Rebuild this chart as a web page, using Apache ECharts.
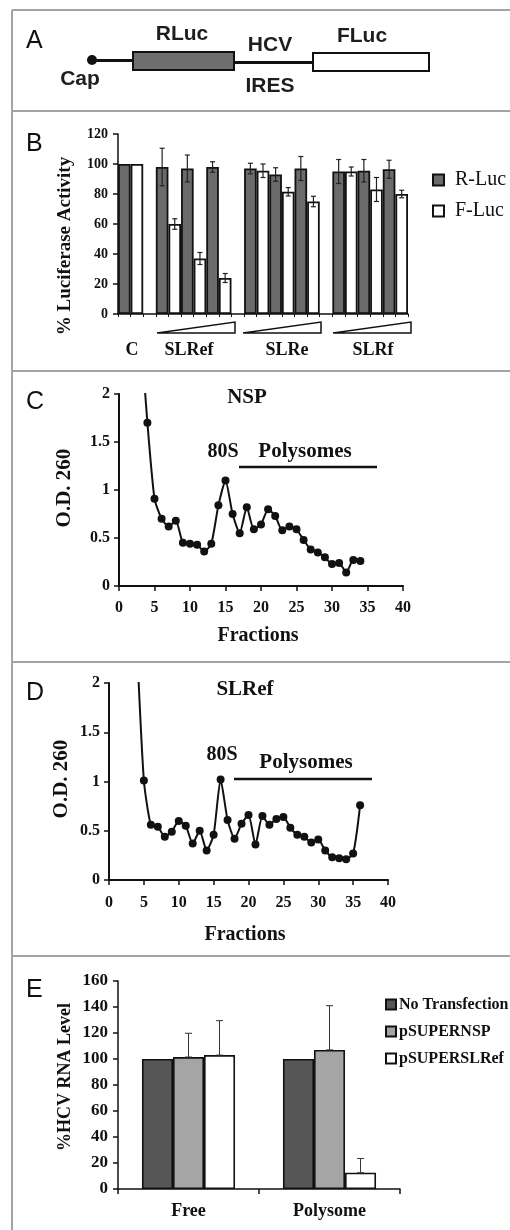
<!DOCTYPE html>
<html>
<head>
<meta charset="utf-8">
<script src="https://cdn.jsdelivr.net/npm/echarts/dist/echarts.min.js"></script>
<style>
html,body{margin:0;padding:0;background:#fff;}
#chart{width:510px;height:1230px;}
</style>
</head>
<body>
<div id="chart"></div>
<script>
// ---------- Panel B data ----------
const bGroups = ['C', 'SLRef', 'SLRe', 'SLRf'];
const rLuc    = [100, 98, 97, 98, 97, 93, 97, 95, 95.5, 96.5];
const rLucErr = [0, 12.5, 9, 3.5, 3.5, 4.5, 8, 8, 7.5, 6];
const fLuc    = [100, 60, 37, 24, 95.5, 81.5, 75, 95, 83, 80];
const fLucErr = [0, 3.5, 4, 3, 4.5, 2.8, 3.5, 3, 8, 2.5];
const bTicks  = [0, 20, 40, 60, 80, 100, 120];

// ---------- Panel C data (NSP) ----------
const fractionsC = [3, 4, 5, 6, 7, 8, 9, 10, 11, 12, 13, 14, 15, 16, 17, 18, 19, 20, 21, 22, 23, 24, 25, 26, 27, 28, 29, 30, 31, 32, 33, 34];
const odC        = [2.7, 1.70, 0.91, 0.70, 0.62, 0.68, 0.45, 0.44, 0.43, 0.36, 0.44, 0.84, 1.10, 0.75, 0.55, 0.82, 0.59, 0.64, 0.80, 0.73, 0.58, 0.62, 0.59, 0.48, 0.38, 0.35, 0.30, 0.23, 0.24, 0.14, 0.27, 0.26];

// ---------- Panel D data (SLRef) ----------
const fractionsD = [4, 5, 6, 7, 8, 9, 10, 11, 12, 13, 14, 15, 16, 17, 18, 19, 20, 21, 22, 23, 24, 25, 26, 27, 28, 29, 30, 31, 32, 33, 34, 35, 36];
const odD        = [2.4, 1.01, 0.56, 0.54, 0.44, 0.49, 0.60, 0.55, 0.37, 0.50, 0.30, 0.46, 1.02, 0.61, 0.42, 0.57, 0.66, 0.36, 0.65, 0.56, 0.62, 0.64, 0.53, 0.46, 0.44, 0.38, 0.41, 0.30, 0.23, 0.22, 0.21, 0.27, 0.76];

// ---------- Panel E data ----------
const eCategories     = ['Free', 'Polysome'];
const noTransfection  = [100, 100];
const pSUPERNSP       = [101.5, 107];
const pSUPERNSPErr    = [18.3, 34];
const pSUPERSLRef     = [103, 12.5];
const pSUPERSLRefErr  = [26.5, 11];

// ---------- layout helpers (not data) ----------
const nSlots = 23;
const pairSlots = [0, 3, 5, 7, 10, 12, 14, 17, 19, 21];
const slotCats = Array.from({length: nSlots}, (_, i) => 's' + i);
const rSlot = Array(nSlots).fill(null);
const fSlot = Array(nSlots).fill(null);
const bErrData = [];
rLuc.forEach((v, i) => { rSlot[pairSlots[i]] = v; if (rLucErr[i] > 0) bErrData.push([pairSlots[i], v, rLucErr[i]]); });
fLuc.forEach((v, i) => { fSlot[pairSlots[i] + 1] = v; if (fLucErr[i] > 0) bErrData.push([pairSlots[i] + 1, v, fLucErr[i]]); });

const eErrData = [];
pSUPERNSP.forEach((v, i) => eErrData.push([i, 1, v, pSUPERNSPErr[i]]));
pSUPERSLRef.forEach((v, i) => eErrData.push([i, 2, v, pSUPERSLRefErr[i]]));

const SERIF = 'Liberation Serif';
const SANS = 'Liberation Sans';
const INK = '#111';

function txt(x, y, text, font, extra) {
  return {type: 'text', x: x, y: y, z: 10,
    style: Object.assign({text: text, font: font, fill: INK, align: 'center', verticalAlign: 'middle'}, extra || {})};
}
function vtxt(x, y, text, font) {
  const t = txt(x, y, text, font);
  t.rotation = Math.PI / 2;
  return t;
}
function ln(x1, y1, x2, y2, w, c) {
  return {type: 'line', z: 10, shape: {x1, y1, x2, y2}, style: {stroke: c || INK, lineWidth: w}};
}

const frameC = '#a3a3a3';
const graphics = [
  // frame
  ln(12, 10, 510, 10, 2, frameC),
  ln(12, 10, 12, 1230, 2, frameC),
  ln(12, 111, 510, 111, 2, frameC),
  ln(12, 371, 510, 371, 2, frameC),
  ln(12, 662, 510, 662, 2, frameC),
  ln(12, 956, 510, 956, 2, frameC),
  // panel letters
  txt(26, 41, 'A', '25px ' + SANS, {align: 'left'}),
  txt(26, 144, 'B', '25px ' + SANS, {align: 'left'}),
  txt(26, 402, 'C', '25px ' + SANS, {align: 'left'}),
  txt(26, 693, 'D', '25px ' + SANS, {align: 'left'}),
  txt(26, 990, 'E', '25px ' + SANS, {align: 'left'}),
  // panel A diagram
  ln(92, 60.5, 134, 60.5, 3),
  {type: 'circle', z: 11, shape: {cx: 92, cy: 60, r: 5}, style: {fill: INK}},
  {type: 'rect', z: 10, shape: {x: 133, y: 52, width: 101, height: 18}, style: {fill: '#6e6e6e', stroke: INK, lineWidth: 2}},
  ln(234, 62.5, 314, 62.5, 3),
  {type: 'rect', z: 10, shape: {x: 313, y: 53, width: 116, height: 18}, style: {fill: '#fff', stroke: INK, lineWidth: 2}},
  txt(182, 34, 'RLuc', 'bold 21px ' + SANS, {fill: '#1e1e1e'}),
  txt(270, 45, 'HCV', 'bold 21px ' + SANS, {fill: '#1e1e1e'}),
  txt(362, 36, 'FLuc', 'bold 21px ' + SANS, {fill: '#1e1e1e'}),
  txt(80, 79, 'Cap', 'bold 21px ' + SANS, {fill: '#1e1e1e'}),
  txt(270, 86, 'IRES', 'bold 21px ' + SANS, {fill: '#1e1e1e'}),
  // panel B
  vtxt(65, 246, '% Luciferase Activity', 'bold 19px ' + SERIF),
  txt(132, 350, bGroups[0], 'bold 18px ' + SERIF),
  txt(189, 350, bGroups[1], 'bold 18px ' + SERIF),
  txt(287, 350, bGroups[2], 'bold 18px ' + SERIF),
  txt(373, 350, bGroups[3], 'bold 18px ' + SERIF),
  {type: 'polygon', z: 10, shape: {points: [[157, 333], [235, 322], [235, 333]]}, style: {fill: '#fff', stroke: INK, lineWidth: 1.5}},
  {type: 'polygon', z: 10, shape: {points: [[243, 333], [321, 322], [321, 333]]}, style: {fill: '#fff', stroke: INK, lineWidth: 1.5}},
  {type: 'polygon', z: 10, shape: {points: [[333, 333], [411, 322], [411, 333]]}, style: {fill: '#fff', stroke: INK, lineWidth: 1.5}},
  // panel C
  vtxt(65, 488, 'O.D. 260', 'bold 21px ' + SERIF),
  txt(247, 398, 'NSP', 'bold 21px ' + SERIF),
  txt(223, 452, '80S', 'bold 20px ' + SERIF),
  txt(305, 452, 'Polysomes', 'bold 21px ' + SERIF),
  ln(239, 467, 377, 467, 2.5),
  txt(258, 636, 'Fractions', 'bold 20px ' + SERIF),
  // panel D
  vtxt(62, 779, 'O.D. 260', 'bold 21px ' + SERIF),
  txt(245, 690, 'SLRef', 'bold 21px ' + SERIF),
  txt(222, 755, '80S', 'bold 20px ' + SERIF),
  txt(306, 763, 'Polysomes', 'bold 21px ' + SERIF),
  ln(234, 779, 372, 779, 2.5),
  txt(245, 935, 'Fractions', 'bold 20px ' + SERIF),
  // panel E
  vtxt(65, 1077, '%HCV RNA Level', 'bold 18px ' + SERIF)
];

const axisLine = {show: true, lineStyle: {color: INK, width: 1.5}};
const axisTickOut = {show: true, inside: false, length: 5, lineStyle: {color: INK, width: 1.5}};

const chart = echarts.init(document.getElementById('chart'), null, {renderer: 'canvas'});
chart.setOption({
  animation: false,
  backgroundColor: '#fff',
  textStyle: {fontFamily: SERIF, color: INK},
  grid: [
    {left: 118, top: 134, width: 290, height: 180},
    {left: 119, top: 394, width: 284, height: 192},
    {left: 109, top: 683, width: 279, height: 197},
    {left: 118, top: 981, width: 282, height: 208}
  ],
  legend: [
    {data: ['R-Luc', 'F-Luc'], orient: 'vertical', left: 427, top: 165, itemWidth: 11, itemHeight: 11, itemGap: 11, icon: 'rect',
      textStyle: {fontFamily: SERIF, fontSize: 20, lineHeight: 20, color: INK, padding: [0, 0, 0, 6]}},
    {data: ['No Transfection', 'pSUPERNSP', 'pSUPERSLRef'], orient: 'vertical', left: 380, top: 991, itemWidth: 10, itemHeight: 10, itemGap: 10, icon: 'rect',
      textStyle: {fontFamily: SERIF, fontWeight: 'bold', fontSize: 16, lineHeight: 17, color: INK, padding: [0, 0, 0, -2]}}
  ],
  xAxis: [
    {gridIndex: 0, type: 'category', data: slotCats, boundaryGap: true,
      axisLine: axisLine, axisTick: {show: true, interval: 0, length: 3, lineStyle: {color: INK, width: 1}}, axisLabel: {show: false}, splitLine: {show: false}},
    {gridIndex: 1, type: 'value', min: 0, max: 40, interval: 5,
      axisLine: {show: true, onZero: false, lineStyle: {color: INK, width: 2}}, axisTick: axisTickOut, splitLine: {show: false},
      axisLabel: {fontFamily: SERIF, fontWeight: 'bold', fontSize: 16, color: INK, margin: 14}},
    {gridIndex: 2, type: 'value', min: 0, max: 40, interval: 5,
      axisLine: {show: true, onZero: false, lineStyle: {color: INK, width: 2}}, axisTick: axisTickOut, splitLine: {show: false},
      axisLabel: {fontFamily: SERIF, fontWeight: 'bold', fontSize: 16, color: INK, margin: 15}},
    {gridIndex: 3, type: 'category', data: eCategories,
      axisLine: axisLine, axisTick: {show: true, length: 5, lineStyle: {color: INK, width: 1.5}}, splitLine: {show: false},
      axisLabel: {fontFamily: SERIF, fontWeight: 'bold', fontSize: 18, color: INK, margin: 13}}
  ],
  yAxis: [
    {gridIndex: 0, type: 'value', min: 0, max: 120, interval: 20,
      axisLine: axisLine, axisTick: axisTickOut, splitLine: {show: false},
      axisLabel: {fontFamily: SERIF, fontWeight: 'bold', fontSize: 14, color: INK, margin: 10}},
    {gridIndex: 1, type: 'value', min: 0, max: 2, interval: 0.5,
      axisLine: {show: true, onZero: false, lineStyle: {color: INK, width: 2}}, axisTick: axisTickOut, splitLine: {show: false},
      axisLabel: {fontFamily: SERIF, fontWeight: 'bold', fontSize: 16, color: INK, margin: 9}},
    {gridIndex: 2, type: 'value', min: 0, max: 2, interval: 0.5,
      axisLine: {show: true, onZero: false, lineStyle: {color: INK, width: 2}}, axisTick: axisTickOut, splitLine: {show: false},
      axisLabel: {fontFamily: SERIF, fontWeight: 'bold', fontSize: 16, color: INK, margin: 9}},
    {gridIndex: 3, type: 'value', min: 0, max: 160, interval: 20,
      axisLine: axisLine, axisTick: axisTickOut, splitLine: {show: false},
      axisLabel: {fontFamily: SERIF, fontWeight: 'bold', fontSize: 17, color: INK, margin: 10}}
  ],
  series: [
    {name: 'R-Luc', type: 'bar', xAxisIndex: 0, yAxisIndex: 0, data: rSlot, barWidth: '100%', barGap: '-100%',
      itemStyle: {color: '#6b6b6b', borderColor: INK, borderWidth: 1.8}},
    {name: 'F-Luc', type: 'bar', xAxisIndex: 0, yAxisIndex: 0, data: fSlot, barWidth: '100%', barGap: '-100%',
      itemStyle: {color: '#fff', borderColor: INK, borderWidth: 1.8}},
    {type: 'custom', xAxisIndex: 0, yAxisIndex: 0, z: 5, data: bErrData,
      renderItem: function (params, api) {
        const x = api.value(0), v = api.value(1), e = api.value(2);
        const top = api.coord([x, v + e]);
        const bot = api.coord([x, v - e]);
        const cap = 2.5;
        const st = {stroke: '#222', lineWidth: 1.2};
        return {type: 'group', children: [
          {type: 'line', shape: {x1: top[0], y1: top[1], x2: bot[0], y2: bot[1]}, style: st},
          {type: 'line', shape: {x1: top[0] - cap, y1: top[1], x2: top[0] + cap, y2: top[1]}, style: st},
          {type: 'line', shape: {x1: bot[0] - cap, y1: bot[1], x2: bot[0] + cap, y2: bot[1]}, style: st}
        ]};
      }},
    {name: 'NSP', type: 'line', xAxisIndex: 1, yAxisIndex: 1, data: fractionsC.map((f, i) => [f, odC[i]]),
      smooth: 0.2, clip: true, symbol: 'circle', symbolSize: 8, showAllSymbol: true,
      itemStyle: {color: INK}, lineStyle: {color: INK, width: 2}},
    {name: 'SLRef', type: 'line', xAxisIndex: 2, yAxisIndex: 2, data: fractionsD.map((f, i) => [f, odD[i]]),
      smooth: 0.2, clip: true, symbol: 'circle', symbolSize: 8, showAllSymbol: true,
      itemStyle: {color: INK}, lineStyle: {color: INK, width: 2}},
    {name: 'No Transfection', type: 'bar', xAxisIndex: 3, yAxisIndex: 3, data: noTransfection, barCategoryGap: '34%', barGap: 0,
      itemStyle: {color: '#565656', borderColor: INK, borderWidth: 1.6}},
    {name: 'pSUPERNSP', type: 'bar', xAxisIndex: 3, yAxisIndex: 3, data: pSUPERNSP, barCategoryGap: '34%', barGap: 0,
      itemStyle: {color: '#a5a5a5', borderColor: INK, borderWidth: 1.6}},
    {name: 'pSUPERSLRef', type: 'bar', xAxisIndex: 3, yAxisIndex: 3, data: pSUPERSLRef, barCategoryGap: '34%', barGap: 0,
      itemStyle: {color: '#fff', borderColor: INK, borderWidth: 1.6}},
    {type: 'custom', xAxisIndex: 3, yAxisIndex: 3, z: 5, data: eErrData,
      renderItem: function (params, api) {
        const c = api.value(0), k = api.value(1), v = api.value(2), e = api.value(3);
        const band = api.size([1, 0])[0];
        const bw = band * (1 - 0.34) / 3;
        const base = api.coord([c, v]);
        const top = api.coord([c, v + e]);
        const x = base[0] + (k - 1) * bw;
        const cap = 3.5;
        const st = {stroke: '#333', lineWidth: 1};
        return {type: 'group', children: [
          {type: 'line', shape: {x1: x, y1: top[1], x2: x, y2: base[1]}, style: st},
          {type: 'line', shape: {x1: x - cap, y1: top[1], x2: x + cap, y2: top[1]}, style: st},
          {type: 'line', shape: {x1: x - cap, y1: base[1], x2: x + cap, y2: base[1]}, style: st}
        ]};
      }}
  ],
  graphic: graphics
});
</script>
</body>
</html>
